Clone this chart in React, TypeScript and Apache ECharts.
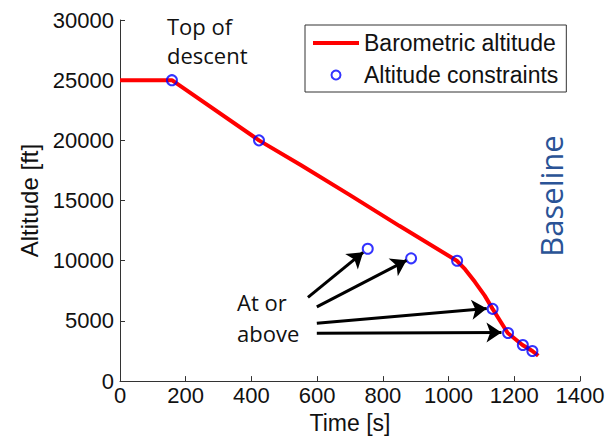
import React, { useEffect, useRef } from "react";
import * as echarts from "echarts";

// Barometric altitude profile (time [s], altitude [ft])
const profileTime = [0, 158, 423, 550, 700, 850, 1025, 1050, 1080, 1110, 1134, 1180, 1225, 1255, 1273];
const profileAlt = [25000, 25000, 20000, 17950, 15450, 12900, 10000, 9300, 8250, 7100, 6000, 4000, 3000, 2500, 2100];

// Altitude constraints
const constraintTime = [158, 423, 754, 886, 1026, 1134, 1181, 1226, 1255];
const constraintAlt = [25000, 20000, 11000, 10200, 10000, 6000, 4000, 3000, 2500];

// "At or above" arrows: start and tip in data coordinates
const arrowStartTime = [572, 599, 599, 599];
const arrowStartAlt = [6960, 6160, 4800, 3980];
const arrowEndTime = [740, 872, 1116, 1161];
const arrowEndAlt = [10700, 10030, 6030, 4040];

const xTicks = { min: 0, max: 1400, interval: 200 };
const yTicks = { min: 0, max: 30000, interval: 5000 };

const seriesNames = ["Barometric altitude", "Altitude constraints"];
const axisNames = { x: "Time [s]", y: "Altitude [ft]" };

export default function App() {
  const ref = useRef<HTMLDivElement>(null);
  useEffect(() => {
    if (!ref.current) return;
    const chart = echarts.init(ref.current, null, { renderer: "svg" });
    const tickFont = { fontFamily: "Liberation Sans, Arial, sans-serif", fontSize: 22, color: "#111" };
    const annFont = "Open Sans, Calibri, sans-serif";
    const plain = (v: number) => String(v);
    chart.setOption({
      animation: false,
      backgroundColor: "#ffffff",
      grid: { left: 120, right: 28, top: 20, bottom: 57, containLabel: false },
      xAxis: {
        type: "value",
        min: xTicks.min,
        max: xTicks.max,
        interval: xTicks.interval,
        name: axisNames.x,
        nameLocation: "middle",
        nameGap: 28,
        nameTextStyle: { fontFamily: "Liberation Sans, Arial, sans-serif", fontSize: 23, color: "#111" },
        axisLine: { show: true, lineStyle: { color: "#333", width: 1 } },
        axisTick: { show: true, inside: true, length: 5, lineStyle: { color: "#333" } },
        axisLabel: { ...tickFont, margin: 3, formatter: plain },
        splitLine: { show: false },
      },
      yAxis: {
        type: "value",
        min: yTicks.min,
        max: yTicks.max,
        interval: yTicks.interval,
        name: axisNames.y,
        nameLocation: "middle",
        nameGap: 66,
        nameTextStyle: { fontFamily: "Liberation Sans, Arial, sans-serif", fontSize: 24, color: "#111" },
        axisLine: { show: true, lineStyle: { color: "#333", width: 1 } },
        axisTick: { show: true, inside: true, length: 5, lineStyle: { color: "#333" } },
        axisLabel: { ...tickFont, margin: 6, formatter: plain },
        splitLine: { show: false },
      },
      legend: {
        data: [
          { name: seriesNames[0], icon: "path://M0,0 L46,0 L46,4 L0,4 Z" },
          { name: seriesNames[1] },
        ],
        orient: "vertical",
        left: 305,
        top: 25,
        padding: [5, 8, 4, 8],
        itemWidth: 46,
        itemHeight: 9,
        itemGap: 6,
        borderColor: "#333",
        borderWidth: 1,
        backgroundColor: "#fff",
        textStyle: { fontFamily: "Liberation Sans, Arial, sans-serif", fontSize: 23, color: "#111", lineHeight: 26 },
      },
      series: [
        {
          name: seriesNames[0],
          type: "line",
          data: profileTime.map((t, i) => [t, profileAlt[i]]),
          symbol: "none",
          lineStyle: { color: "#ff0000", width: 4 },
          itemStyle: { color: "#ff0000" },
          z: 2,
          markLine: {
            silent: true,
            symbol: ["none", "arrow"],
            symbolSize: 15,
            label: { show: false },
            lineStyle: { color: "#000", width: 3, type: "solid" },
            data: arrowStartTime.map((t, i) => [
              { coord: [t, arrowStartAlt[i]] },
              { coord: [arrowEndTime[i], arrowEndAlt[i]] },
            ]),
          },
        },
        {
          name: seriesNames[1],
          type: "scatter",
          data: constraintTime.map((t, i) => [t, constraintAlt[i]]),
          symbol: "circle",
          symbolSize: 10,
          itemStyle: { color: "rgba(0,0,0,0)", borderColor: "#0000ff", borderWidth: 2 },
          z: 3,
        },
      ],
      graphic: [
        { type: "text", x: 167, y: 26, style: { text: "Top of", fontFamily: annFont, fontSize: 22, fill: "#111", align: "left", verticalAlign: "middle" } },
        { type: "text", x: 167, y: 55, style: { text: "descent", fontFamily: annFont, fontSize: 22, fill: "#111", align: "left", verticalAlign: "middle" } },
        { type: "text", x: 237, y: 302, style: { text: "At or", fontFamily: annFont, fontSize: 22, fill: "#111", align: "left", verticalAlign: "middle" } },
        { type: "text", x: 237, y: 333, style: { text: "above", fontFamily: annFont, fontSize: 22, fill: "#111", align: "left", verticalAlign: "middle" } },
        { type: "text", x: 551, y: 196, rotation: Math.PI / 2, style: { text: "Baseline", fontFamily: annFont, fontSize: 31, fill: "#2a5396", align: "center", verticalAlign: "middle" } },
      ],
    });
    return () => chart.dispose();
  }, []);
  return <div ref={ref} style={{ position: "fixed", left: 0, top: 0, width: 608, height: 439, background: "#fff" }} />;
}
